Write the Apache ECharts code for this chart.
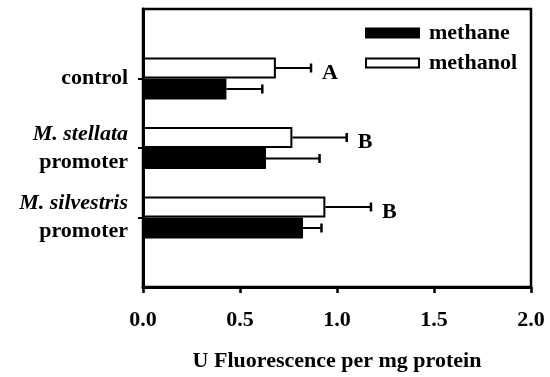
<!DOCTYPE html>
<html><head><meta charset="utf-8">
<script src="https://cdn.jsdelivr.net/npm/echarts@6/dist/echarts.min.js"></script>
<style>html,body{margin:0;padding:0;background:#fff}#c{width:550px;height:377px}</style>
</head><body><div id="c"></div>
<script>
const categories = ['control', 'M. stellata promoter', 'M. silvestris promoter'];
const methane = [0.43, 0.634, 0.825];
const methaneErr = [0.615, 0.91, 0.92];
const methanol = [0.685, 0.77, 0.94];
const methanolErr = [0.866, 1.05, 1.175];
const letters = ['A', 'B', 'B'];
const xTicks = [0, 0.5, 1.0, 1.5, 2.0];

const FONT = 'Liberation Serif';
const FS = 22;
const BAR_W = 21;

// padded category axis (empty slots top and bottom, boundaryGap false)
const cats = [''].concat(categories, ['']);
const pad = a => ['-'].concat(a, ['-']);

function errSeries(name, vals, errs, offsetSign, lbls) {
  const data = vals.map((v, i) => [v, i + 1, errs[i], lbls ? lbls[i] : '']);
  return {
    type: 'custom', name: name + '_err', silent: true, z: 5,
    renderItem: function (params, api) {
      const v = api.value(0), idx = api.value(1), e = api.value(2);
      const p0 = api.coord([v, idx]);
      const p1 = api.coord([e, idx]);
      const y = p0[1] + offsetSign * BAR_W / 2;
      const children = [
        {type: 'line', shape: {x1: p0[0], y1: y, x2: p1[0], y2: y}, style: {stroke: '#000', lineWidth: 2}},
        {type: 'line', shape: {x1: p1[0], y1: y - 4.5, x2: p1[0], y2: y + 4.5}, style: {stroke: '#000', lineWidth: 2.5}}
      ];
      const lab = data[params.dataIndex][3];
      if (lab) {
        children.push({type: 'text', x: p1[0] + 11, y: y + 5,
          style: {text: lab, fill: '#000', font: 'bold ' + FS + 'px "' + FONT + '"', align: 'left', verticalAlign: 'middle'}});
      }
      return {type: 'group', children: children};
    },
    data: data
  };
}

const chart = echarts.init(document.getElementById('c'), null, {renderer: 'canvas'});
chart.setOption({
  animation: false,
  backgroundColor: '#fff',
  textStyle: {fontFamily: FONT},
  grid: {left: 143, right: 19, top: 9, bottom: 90, show: true, borderColor: '#000', borderWidth: 2.5, containLabel: false},
  legend: {
    data: ['methane', 'methanol'], orient: 'vertical', left: 365, top: 22, icon: 'rect', padding: 0,
    itemWidth: 53, itemHeight: 9, itemGap: 8,
    textStyle: {fontFamily: FONT, fontWeight: 'bold', fontSize: FS, color: '#000', lineHeight: 22, padding: [0, 0, 0, 5]},
    selectedMode: false
  },
  xAxis: {
    type: 'value', min: 0, max: 2, interval: 0.5,
    name: 'U Fluorescence per mg protein', nameLocation: 'middle', nameGap: 63,
    nameTextStyle: {fontFamily: FONT, fontWeight: 'bold', fontSize: FS, color: '#000'},
    axisLine: {show: true, lineStyle: {color: '#000', width: 3}},
    axisTick: {show: true, length: 6, lineStyle: {color: '#000', width: 2.5}},
    axisLabel: {margin: 22, fontFamily: FONT, fontWeight: 'bold', fontSize: FS, color: '#000',
      formatter: v => (xTicks.indexOf(v) >= 0 ? v.toFixed(1) : '')},
    splitLine: {show: false}
  },
  yAxis: {
    type: 'category', data: cats, inverse: true, boundaryGap: false,
    axisLine: {show: true, lineStyle: {color: '#000', width: 3}},
    axisTick: {show: true, length: 5, lineStyle: {color: '#000', width: 2}, interval: (i, v) => v !== ''},
    axisLabel: {
      margin: 15, fontFamily: FONT, fontWeight: 'bold', fontSize: FS, color: '#000', lineHeight: 28, align: 'right',
      formatter: function (v) {
        if (v === '') return '';
        const m = v.match(/^(M\. \S+) (promoter)$/);
        if (m) return '{i|' + m[1] + '}\n{b|' + m[2] + '}';
        return '{b|' + v + '}';
      },
      rich: {
        i: {fontFamily: FONT, fontStyle: 'italic', fontWeight: 'bold', fontSize: FS, color: '#000', lineHeight: 28},
        b: {fontFamily: FONT, fontWeight: 'bold', fontSize: FS, color: '#000', lineHeight: 28}
      }
    },
    splitLine: {show: false}
  },
  series: [
    {name: 'methanol', type: 'bar', data: pad(methanol), barWidth: BAR_W, barGap: '0%',
      itemStyle: {color: '#fff', borderColor: '#000', borderWidth: 2}, z: 3},
    {name: 'methane', type: 'bar', data: pad(methane), barWidth: BAR_W, barGap: '0%',
      itemStyle: {color: '#000', borderColor: '#000', borderWidth: 2}, z: 3},
    errSeries('methanol', methanol, methanolErr, -1, letters),
    errSeries('methane', methane, methaneErr, 1, null)
  ]
});
</script></body></html>
